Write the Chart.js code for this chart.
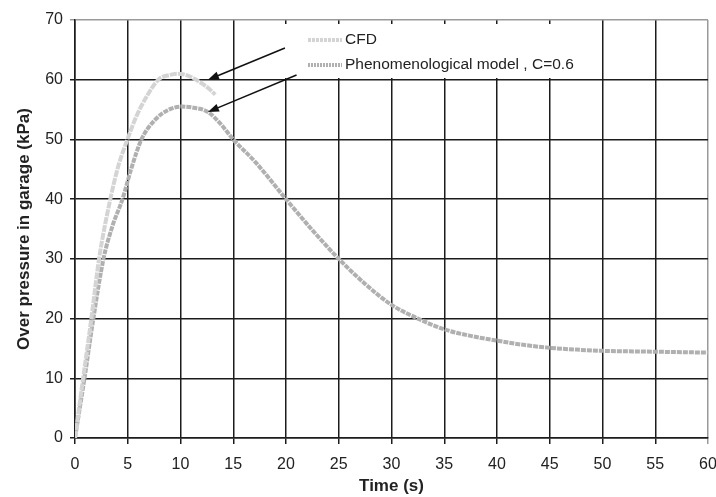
<!DOCTYPE html>
<html>
<head>
<meta charset="utf-8">
<script src="https://cdn.jsdelivr.net/npm/chart.js@4"></script>
<style>
    html, body { margin: 0; padding: 0; background: #fff; }
    #wrap { width: 716px; height: 497px; }
</style>
</head>
<body>
<div id="wrap"><canvas id="pressureChart" width="716" height="497"></canvas></div>
<script>
// 数据：CFD 结果
const cfdTime = [0, 0.77, 1.55, 2.28, 3.35, 4.1, 4.97, 5.8, 6.6, 7.9, 9.0, 9.8, 10.8, 12.0, 12.7, 13.3];
const cfdPressure = [0, 10, 20, 30, 40, 45.5, 50, 53.8, 56.6, 60, 60.8, 61.0, 60.6, 59.4, 58.5, 57.5];

// 数据：唯象模型 C=0.6
const modelTime = [0, 0.9, 1.74, 2.7, 3.55, 4.5, 5.35, 6.3, 7.6, 8.8, 10.1, 11.3, 12.6, 13.8, 15, 17.1, 20, 22.5, 25, 27.5, 30, 32.5, 35, 37.5, 40, 42.5, 45, 47.5, 50, 55, 60];
const modelPressure = [0, 10, 20, 30, 35.5, 40, 45.2, 50, 53.3, 54.9, 55.5, 55.3, 54.6, 52.6, 50, 46.2, 40, 34.8, 30, 25.8, 22.3, 20, 18.2, 17.1, 16.3, 15.6, 15.1, 14.8, 14.6, 14.45, 14.3];

const seriesLabels = ["CFD", "Phenomenological model , C=0.6"];
const xTitle = "Time (s)";
const yTitle = "Over pressure in garage (kPa)";

// 箭头（数据坐标）：[尾部 t, 尾部 p, 箭头 t, 箭头 p]
const arrows = [
    [19.9, 65.3, 12.6, 60.0],
    [21.0, 60.8, 12.6, 54.6]
];

const cfdColor = "#d4d4d4";
const modelColor = "#b0b0b0";
const gridBlack = "#1c1c1c";
const gridGray = "#9a9a9a";
const font = "'Liberation Sans', Arial, sans-serif";

function toPoints(xs, ys) {
    return xs.map((x, i) => ({ x: x, y: ys[i] }));
}

// 图例与箭头
const overlayPlugin = {
    id: "overlay",
    afterDatasetsDraw(chart) {
        const ctx = chart.ctx;
        const xs = chart.scales.x;
        const ys = chart.scales.y;
        ctx.save();

        // 图例白底
        ctx.fillStyle = "#fff";
        ctx.fillRect(246, 24, 340, 54);

        const rows = [
            { y: 40, color: cfdColor, dash: [3, 1], text: seriesLabels[0] },
            { y: 65, color: modelColor, dash: [2, 1], text: seriesLabels[1] }
        ];
        rows.forEach(r => {
            ctx.strokeStyle = r.color;
            ctx.lineWidth = 4;
            ctx.setLineDash(r.dash);
            ctx.beginPath();
            ctx.moveTo(308, r.y);
            ctx.lineTo(342, r.y);
            ctx.stroke();
            ctx.setLineDash([]);
            ctx.fillStyle = "#222";
            ctx.font = "15.5px " + font;
            ctx.textBaseline = "middle";
            ctx.textAlign = "left";
            ctx.fillText(r.text, 345, r.y);
        });

        // 箭头
        arrows.forEach(a => {
            const x0 = xs.getPixelForValue(a[0]);
            const y0 = ys.getPixelForValue(a[1]);
            const x1 = xs.getPixelForValue(a[2]);
            const y1 = ys.getPixelForValue(a[3]);
            const ang = Math.atan2(y1 - y0, x1 - x0);
            ctx.strokeStyle = "#111";
            ctx.fillStyle = "#111";
            ctx.lineWidth = 1.5;
            ctx.beginPath();
            ctx.moveTo(x0, y0);
            ctx.lineTo(x1 - 6 * Math.cos(ang), y1 - 6 * Math.sin(ang));
            ctx.stroke();
            ctx.beginPath();
            ctx.moveTo(x1, y1);
            ctx.lineTo(x1 - 11 * Math.cos(ang) + 4 * Math.sin(ang), y1 - 11 * Math.sin(ang) - 4 * Math.cos(ang));
            ctx.lineTo(x1 - 11 * Math.cos(ang) - 4 * Math.sin(ang), y1 - 11 * Math.sin(ang) + 4 * Math.cos(ang));
            ctx.closePath();
            ctx.fill();
        });
        ctx.restore();
    }
};

new Chart(document.getElementById("pressureChart").getContext("2d"), {
    type: "line",
    data: {
        datasets: [
            {
                label: seriesLabels[0],
                data: toPoints(cfdTime, cfdPressure),
                borderColor: cfdColor,
                borderWidth: 4,
                borderDash: [7, 1],
                pointRadius: 0,
                fill: false,
                cubicInterpolationMode: "monotone"
            },
            {
                label: seriesLabels[1],
                data: toPoints(modelTime, modelPressure),
                borderColor: modelColor,
                borderWidth: 4,
                borderDash: [5, 1],
                pointRadius: 0,
                fill: false,
                cubicInterpolationMode: "monotone"
            }
        ]
    },
    options: {
        responsive: false,
        animation: false,
        devicePixelRatio: 1,
        layout: { padding: { top: 20, right: 8, left: 0, bottom: 0 } },
        plugins: {
            legend: { display: false },
            tooltip: { enabled: false }
        },
        scales: {
            x: {
                type: "linear",
                min: 0,
                max: 60,
                afterFit: s => { s.height = 59; s.paddingLeft = 0; s.paddingRight = 0; },
                ticks: {
                    stepSize: 5,
                    color: "#222",
                    padding: 11,
                    maxRotation: 0,
                    autoSkip: false,
                    font: { family: font, size: 16 }
                },
                grid: {
                    color: c => c.tick && c.tick.value === 60 ? gridGray : gridBlack,
                    lineWidth: 1.5,
                    tickLength: 6
                },
                border: { color: gridBlack, width: 1.5 },
                title: {
                    display: true,
                    text: xTitle,
                    color: "#222",
                    padding: { top: 0, bottom: 0 },
                    font: { family: font, size: 17, weight: "bold" }
                }
            },
            y: {
                min: 0,
                max: 70,
                afterFit: s => { s.width = 75; s.paddingTop = 0; s.paddingBottom = 0; },
                ticks: {
                    stepSize: 10,
                    color: "#222",
                    padding: 7,
                    font: { family: font, size: 16 }
                },
                grid: {
                    color: c => c.tick && c.tick.value === 70 ? gridGray : gridBlack,
                    lineWidth: 1.5,
                    tickLength: 5
                },
                border: { color: gridBlack, width: 1.5 },
                title: {
                    display: true,
                    text: yTitle,
                    color: "#222",
                    padding: { top: 14, bottom: 0 },
                    font: { family: font, size: 17, weight: "bold" }
                }
            }
        }
    },
    plugins: [overlayPlugin]
});
</script>
</body>
</html>
